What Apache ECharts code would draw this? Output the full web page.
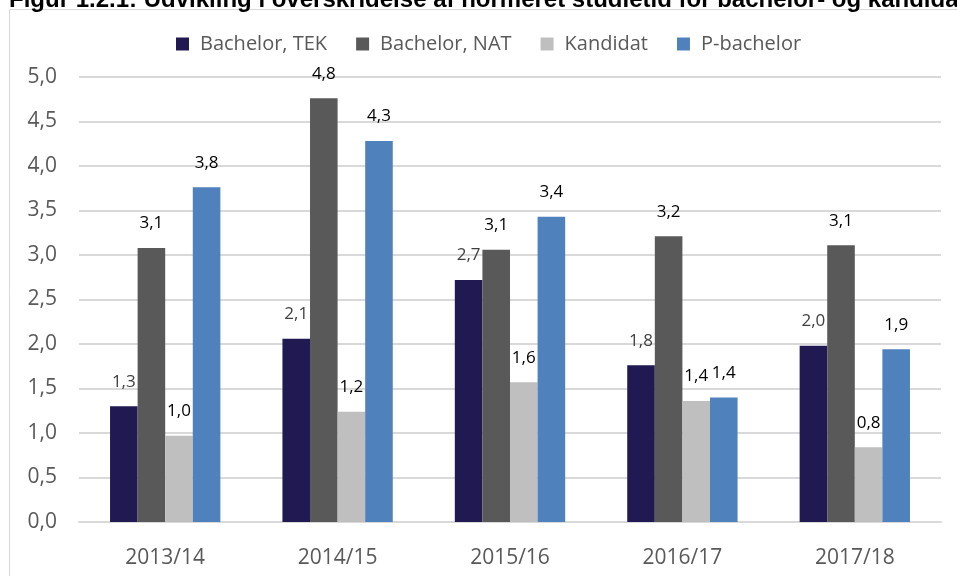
<!DOCTYPE html>
<html>
<head>
<meta charset="utf-8">
<script src="https://cdn.jsdelivr.net/npm/echarts@6/dist/echarts.min.js"></script>
<style>
  html, body { margin: 0; padding: 0; background: #ffffff; }
  #chart { width: 957px; height: 576px; }
</style>
</head>
<body>
<div id="chart"></div>
<script>
// Overskridelse af normeret studietid (år), pr. studieår
const years = ['2013/14', '2014/15', '2015/16', '2016/17', '2017/18'];
const bachelorTek = [1.30, 2.06, 2.72, 1.76, 1.98];
const bachelorNat = [3.08, 4.76, 3.06, 3.21, 3.11];
const kandidat = [0.97, 1.24, 1.57, 1.36, 0.84];
const pBachelor = [3.76, 4.28, 3.43, 1.40, 1.94];
const yTicks = { min: 0, max: 5, step: 0.5 };

const seriesNames = ['Bachelor, TEK', 'Bachelor, NAT', 'Kandidat', 'P-bachelor'];
const seriesValues = [bachelorTek, bachelorNat, kandidat, pBachelor];
const seriesColors = ['#211a52', '#595959', '#bfbfbf', '#4f81bd'];
const labelColors = ['#404040', '#000000', '#000000', '#000000'];

const fmt = v => v.toFixed(1).replace('.', ',');
const font = '"Open Sans", "Noto Sans", sans-serif';

const chart = echarts.init(document.getElementById('chart'), null, { renderer: 'canvas' });

chart.setOption({
  animation: false,
  backgroundColor: '#ffffff',
  graphic: [
    {
      type: 'rect',
      shape: { x: 9.5, y: 9.5, width: 1000, height: 700 },
      style: { fill: 'none', stroke: '#d9d9d9', lineWidth: 1 },
      silent: true
    },
    {
      type: 'text',
      left: 9,
      top: -12,
      style: {
        text: 'Figur 1.2.1: Udvikling i overskridelse af normeret studietid for bachelor- og kandidatuddannelserne',
        font: 'bold 24px "Liberation Sans", Arial, sans-serif',
        fill: '#000000'
      },
      silent: true
    }
  ],
  legend: {
    top: 29,
    left: 171,
    itemWidth: 13,
    itemHeight: 13,
    itemGap: 29,
    icon: 'rect',
    textStyle: { fontFamily: font, fontSize: 20, color: '#595959', padding: [0, 0, 0, 6] },
    data: seriesNames
  },
  grid: { left: 79, right: 16, top: 77, bottom: 54, containLabel: false },
  xAxis: {
    type: 'category',
    data: years,
    axisTick: { show: false },
    axisLine: { lineStyle: { color: '#d9d9d9', width: 2 } },
    axisLabel: { fontFamily: font, fontSize: 21, color: '#595959', margin: 26 }
  },
  yAxis: {
    type: 'value',
    min: yTicks.min,
    max: yTicks.max,
    interval: yTicks.step,
    axisLine: { show: false },
    axisTick: { show: false },
    splitLine: { lineStyle: { color: '#d9d9d9', width: 2 } },
    axisLabel: {
      fontFamily: font, fontSize: 21, color: '#595959', margin: 22,
      padding: [9, 0, 0, 0],
      formatter: v => fmt(v)
    }
  },
  series: seriesNames.map((name, i) => ({
    name,
    type: 'bar',
    data: seriesValues[i],
    barGap: '0%',
    barCategoryGap: '36%',
    itemStyle: { color: seriesColors[i] },
    label: {
      show: true,
      position: 'top',
      distance: 16,
      fontFamily: font,
      fontSize: 17,
      color: labelColors[i],
      formatter: p => fmt(p.value)
    }
  }))
});
</script>
</body>
</html>
